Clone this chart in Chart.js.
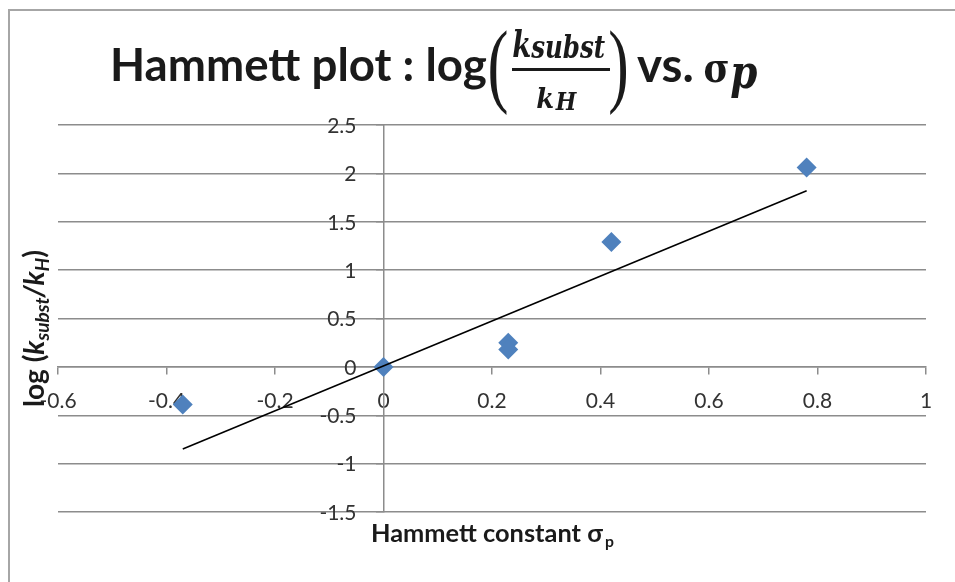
<!DOCTYPE html>
<html><head><meta charset="utf-8">
<script src="https://cdn.jsdelivr.net/npm/chart.js@4.4.1/dist/chart.umd.min.js"></script>
<style>html,body{margin:0;padding:0;background:#fff;} #wrap{width:955px;height:582px;position:relative;}</style>
</head><body><div id="wrap"><canvas id="c" width="955" height="582"></canvas></div>
<script>
// ---- data ----
const sigmaP = [-0.37, 0, 0.23, 0.23, 0.42, 0.78];
const logRatio = [-0.39, 0, 0.25, 0.18, 1.29, 2.06];
const trendSigma = [-0.37, 0.78];
const trendLog = [-0.85, 1.82];
const xTickValues = [-0.6, -0.4, -0.2, 0, 0.2, 0.4, 0.6, 0.8, 1];
const yTickValues = [-1.5, -1, -0.5, 0, 0.5, 1, 1.5, 2, 2.5];
const titleLead = 'Hammett plot : log';
const titleNumK = 'k', titleNumSub = 'subst', titleDenK = 'k', titleDenSub = 'H';
const titleVs = 'vs.', titleSigma = 'σ', titleSigmaSub = 'p';
const xTitle = 'Hammett constant σ', xTitleSub = 'p';

const GRID = '#8c8c8c';
const INK = '#1a1a1a';
const SANS = 'Lato, "Open Sans", sans-serif';
const SERIF = '"DejaVu Serif", serif';
const TICK_FONT = `21px ${SANS}`;

function fmt(v) { const r = Math.round(v * 10) / 10; return (Object.is(r, -0) ? 0 : r).toString(); }

function inkFit(ctx, text, fontTpl, x0, inkW, baseline) {
  ctx.font = fontTpl(100);
  const m = ctx.measureText(text);
  const w = m.actualBoundingBoxLeft + m.actualBoundingBoxRight;
  const size = 100 * inkW / w;
  ctx.font = fontTpl(size);
  const m2 = ctx.measureText(text);
  ctx.fillText(text, x0 + m2.actualBoundingBoxLeft, baseline);
  return size;
}
function boxFit(ctx, text, fontTpl, x0, y0, x1, y1) {
  ctx.font = fontTpl(100);
  const m = ctx.measureText(text);
  const w = m.actualBoundingBoxLeft + m.actualBoundingBoxRight;
  const h = m.actualBoundingBoxAscent + m.actualBoundingBoxDescent;
  const sx = (x1 - x0) / w, sy = (y1 - y0) / h;
  ctx.save();
  ctx.translate(x0 + m.actualBoundingBoxLeft * sx, y0 + m.actualBoundingBoxAscent * sy);
  ctx.scale(sx, sy);
  ctx.fillText(text, 0, 0);
  ctx.restore();
}

const decor = {
  id: 'decor',
  beforeDraw(chart) {
    const ctx = chart.ctx;
    ctx.save();
    ctx.fillStyle = '#fff';
    ctx.fillRect(0, 0, chart.width, chart.height);
    ctx.strokeStyle = '#a6a6a6';
    ctx.lineWidth = 2;
    ctx.beginPath();
    ctx.moveTo(9, 600); ctx.lineTo(9, 10); ctx.lineTo(980, 10);
    ctx.stroke();
    ctx.restore();
  },
  afterDatasetsDraw(chart) {
    // y tick labels, placed left of the y axis (which sits at x = 0)
    const ctx = chart.ctx;
    const xs = chart.scales.x, ys = chart.scales.y;
    const ax = xs.getPixelForValue(0);
    ctx.save();
    ctx.font = TICK_FONT;
    ctx.fillStyle = '#333';
    ctx.textAlign = 'right';
    ctx.textBaseline = 'middle';
    for (const v of yTickValues) ctx.fillText(fmt(v), ax - 27, ys.getPixelForValue(v) + 1);
    ctx.restore();
  },
  afterDraw(chart) {
    const ctx = chart.ctx;
    ctx.save();
    ctx.fillStyle = INK;
    ctx.textAlign = 'left';
    ctx.textBaseline = 'alphabetic';
    // title
    inkFit(ctx, titleLead, s => `bold ${s}px ${SANS}`, 113, 373, 81);
    boxFit(ctx, '(', s => `${s}px "Liberation Serif"`, 490, 30, 507, 115);
    boxFit(ctx, titleNumK, s => `italic bold ${s}px ${SERIF}`, 513, 28, 530, 57);
    boxFit(ctx, titleNumSub, s => `italic bold ${s}px ${SERIF}`, 531, 33, 605, 58);
    ctx.fillRect(512, 68, 98, 3);
    boxFit(ctx, titleDenK, s => `italic bold ${s}px ${SERIF}`, 537, 87, 553, 108);
    boxFit(ctx, titleDenSub, s => `italic bold ${s}px ${SERIF}`, 555, 92, 577, 110);
    boxFit(ctx, ')', s => `${s}px "Liberation Serif"`, 610, 30, 626, 115);
    inkFit(ctx, titleVs, s => `bold ${s}px ${SANS}`, 637, 55, 82);
    boxFit(ctx, titleSigma, s => `bold ${s}px ${SERIF}`, 705, 60, 728, 82);
    boxFit(ctx, titleSigmaSub, s => `italic bold ${s}px ${SERIF}`, 731, 63, 757, 98);

    // x axis title
    const xs = inkFit(ctx, xTitle, s => `bold ${s}px ${SANS}`, 373, 230, 542);
    ctx.font = `bold ${xs * 0.62}px ${SANS}`;
    ctx.fillText(xTitleSub, 605, 547);

    // y axis title (rotated)
    const runs = [
      ['log (', 'bold', 1, 0],
      ['k', 'italic bold', 1, 0],
      ['subst', 'italic bold', 0.68, 4],
      ['/', 'italic bold', 1, 0],
      ['k', 'italic bold', 1, 0],
      ['H', 'italic bold', 0.68, 4],
      [')', 'bold', 1, 0]
    ];
    const base = 21;
    let total = 0;
    for (const [t, st, f] of runs) { ctx.font = `${st} ${base * f}px ${SANS}`; total += ctx.measureText(t).width; }
    const sc = 157 / total;
    ctx.translate(44, 407);
    ctx.rotate(-Math.PI / 2);
    ctx.scale(sc, sc);
    let u = 0;
    for (const [t, st, f, dv] of runs) {
      ctx.font = `${st} ${base * f}px ${SANS}`;
      ctx.fillText(t, u, dv);
      u += ctx.measureText(t).width;
    }
    ctx.restore();
  }
};

new Chart(document.getElementById('c'), {
  type: 'scatter',
  data: {
    datasets: [
      {
        type: 'line',
        data: trendSigma.map((x, i) => ({ x, y: trendLog[i] })),
        borderColor: '#000',
        borderWidth: 1.6,
        pointRadius: 0,
        fill: false,
        tension: 0
      },
      {
        data: sigmaP.map((x, i) => ({ x, y: logRatio[i] })),
        pointStyle: 'rectRot',
        radius: 10,
        backgroundColor: '#4F81BD',
        borderColor: '#4F81BD',
        borderWidth: 0
      }
    ]
  },
  options: {
    responsive: false,
    animation: false,
    devicePixelRatio: 1,
    layout: { padding: { left: 58, top: 125, right: 29, bottom: 70 } },
    plugins: { legend: { display: false }, tooltip: { enabled: false }, title: { display: false } },
    scales: {
      x: {
        type: 'linear', position: { y: 0 }, min: -0.6, max: 1,
        afterBuildTicks: s => { s.ticks = xTickValues.map(v => ({ value: v })); },
        ticks: { callback: v => fmt(v), font: { family: SANS, size: 21 }, color: '#333', padding: 15, autoSkip: false, maxRotation: 0 },
        grid: { drawOnChartArea: false, drawTicks: true, tickLength: 7, color: GRID, lineWidth: 1.5 },
        border: { display: true, color: GRID, width: 1.5 }
      },
      y: {
        type: 'linear', position: { x: 0 }, min: -1.5, max: 2.5,
        afterBuildTicks: s => { s.ticks = yTickValues.map(v => ({ value: v })); },
        ticks: { display: false },
        grid: { drawOnChartArea: true, drawTicks: true, tickLength: 7, color: GRID, lineWidth: 1.5 },
        border: { display: true, color: GRID, width: 1.5 }
      }
    }
  },
  plugins: [decor]
});
</script>
</body></html>
